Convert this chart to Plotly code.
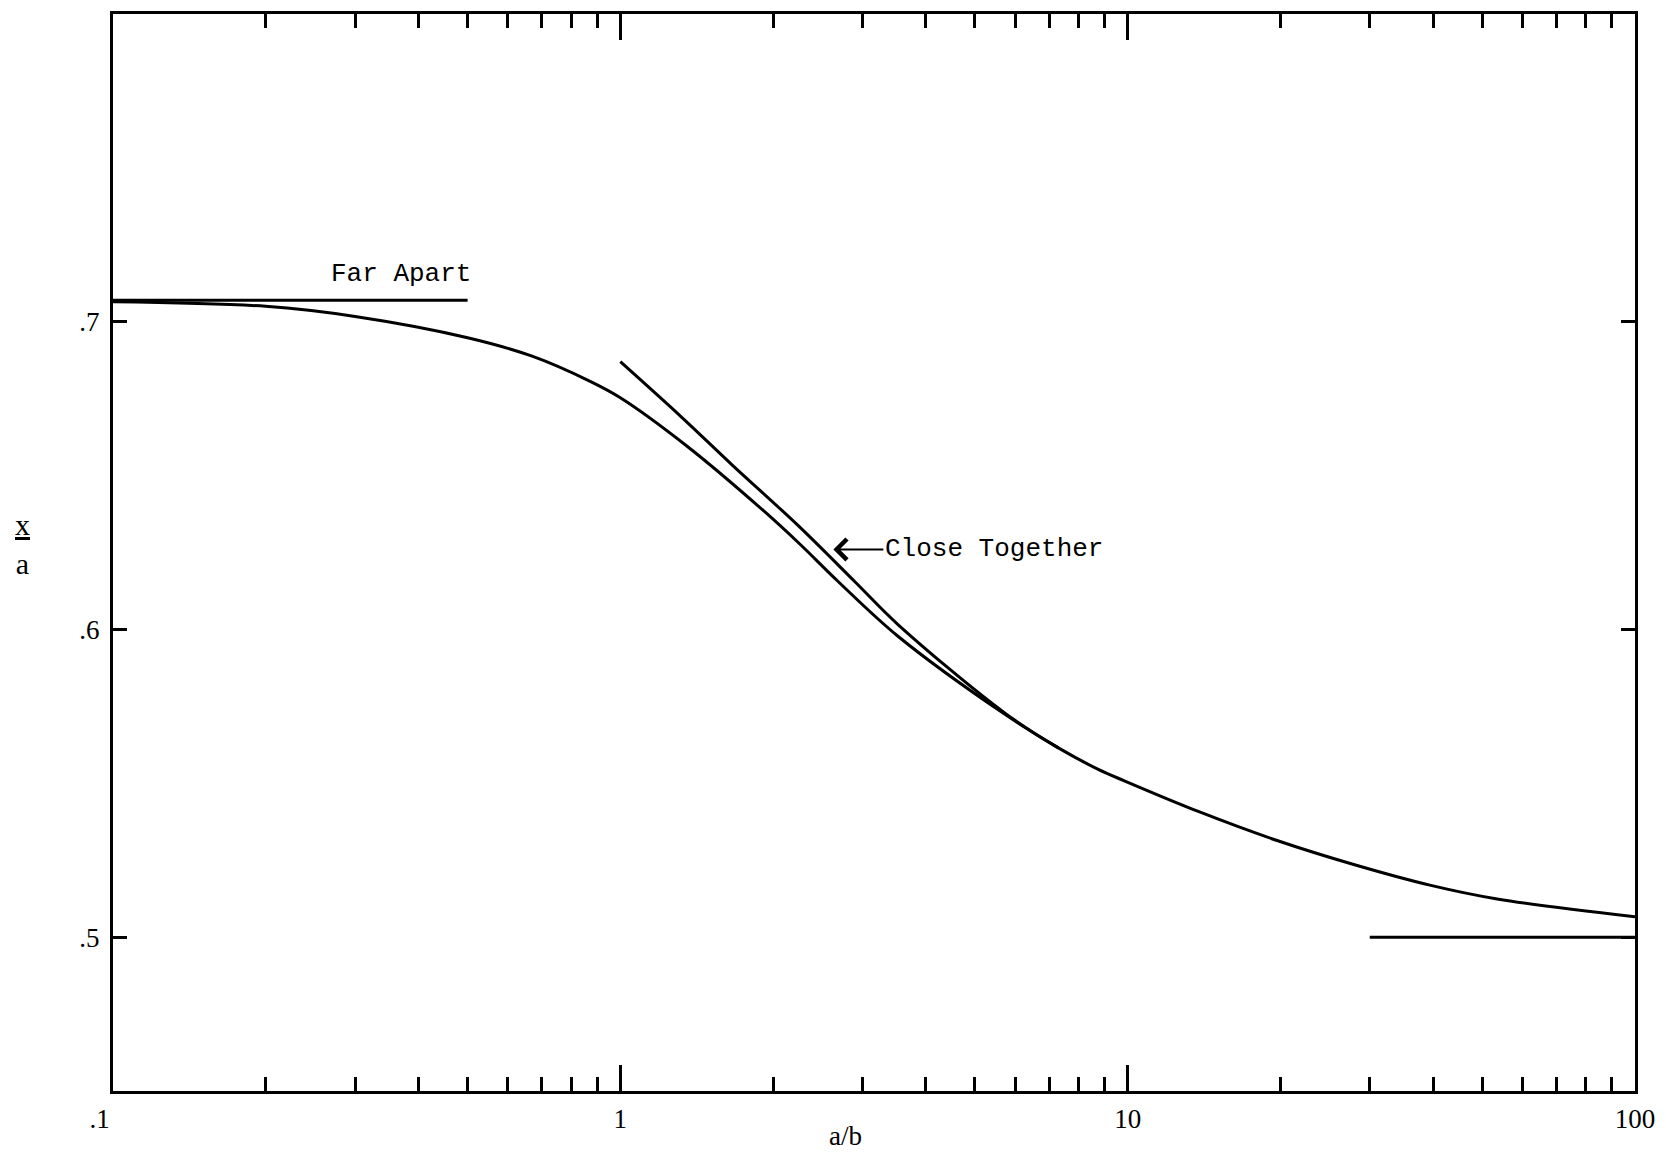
import math
import plotly.graph_objects as go

# ---- data ----
main_x = [0.1, 0.2, 0.3, 0.5, 0.67, 0.87, 1.0, 1.35, 1.93, 2.25, 2.69, 3.53, 5.73, 7.3, 8.73, 9.85, 13.9, 19.7, 27.9, 39.4, 53.5, 100]
main_y = [0.7065, 0.7050, 0.7017, 0.6948, 0.6888, 0.6807, 0.6753, 0.6597, 0.6381, 0.6280, 0.6155, 0.5977, 0.5724, 0.5615, 0.5546, 0.5508, 0.5406, 0.5314, 0.5236, 0.5169, 0.5124, 0.5066]

close_x = [1.0, 1.32, 1.66, 2.25, 2.9, 3.53, 5.73, 7.3]
close_y = [0.687, 0.6690, 0.6535, 0.6335, 0.6155, 0.6015, 0.5728, 0.5615]

far_x = [0.1, 0.5]
far_y = [0.707, 0.707]

limit_x = [30, 100]
limit_y = [0.5, 0.5]

x_tickvals = [0.1, 1, 10, 100]
x_ticktext = [".1\u00a0\u00a0\u00a0\u00a0", "1", "10", "100"]
x_minor = [m * d for d in (0.1, 1, 10) for m in range(2, 10)]
y_tickvals = [0.5, 0.6, 0.7]
y_ticktext = [".5", ".6", ".7"]

W, H = 1666, 1158
serif = "Liberation Serif"
mono = "Liberation Mono"
line = dict(color="black", width=3)

fig = go.Figure()
fig.add_trace(go.Scatter(x=main_x, y=main_y, mode="lines", line=dict(color="black", width=3, shape="spline", smoothing=1.0)))
fig.add_trace(go.Scatter(x=close_x, y=close_y, mode="lines", line=dict(color="black", width=3, shape="spline", smoothing=1.0)))
fig.add_trace(go.Scatter(x=far_x, y=far_y, mode="lines", line=line))
fig.add_trace(go.Scatter(x=limit_x, y=limit_y, mode="lines", line=line))

fig.update_layout(
    width=W, height=H,
    margin=dict(l=113, r=28, t=11, b=67, pad=0),
    paper_bgcolor="white", plot_bgcolor="white",
    showlegend=False,
    font=dict(family=serif, color="black", size=26),
)

fig.update_xaxes(
    type="log", range=[-1, 2],
    tickvals=x_tickvals, ticktext=x_ticktext,
    ticks="inside", ticklen=26, tickwidth=3, tickcolor="black",
    showline=True, linewidth=3, linecolor="black", mirror="ticks",
    showgrid=False, zeroline=False,
    ticklabelstandoff=2,
    tickfont=dict(family=serif, size=27, color="black"),
    minor=dict(tickvals=x_minor, ticks="inside", ticklen=14, tickwidth=3, tickcolor="black", showgrid=False),
)
fig.update_yaxes(
    range=[0.45, 0.8],
    tickvals=y_tickvals, ticktext=y_ticktext,
    ticks="inside", ticklen=14, tickwidth=3, tickcolor="black",
    showline=True, linewidth=3, linecolor="black", mirror="ticks",
    showgrid=False, zeroline=False,
    ticklabelstandoff=5,
    tickfont=dict(family=serif, size=27, color="black"),
)

fig.add_annotation(x=math.log10(0.37), y=0.7155, xref="x", yref="y", text="Far Apart",
                   showarrow=False, font=dict(family=mono, size=26, color="black"))
fig.add_annotation(x=math.log10(2.63), y=0.626, xref="x", yref="y", text="Close Together",
                   showarrow=True, ax=50, ay=0, xanchor="left", arrowhead=4, arrowsize=2.0,
                   arrowwidth=2, arrowcolor="black",
                   font=dict(family=mono, size=26, color="black"))
fig.add_annotation(x=-0.066, y=0.5075, xref="paper", yref="paper", text="<u>x</u><br>a",
                   showarrow=False, font=dict(family=serif, size=30, color="black"))
fig.add_annotation(x=0.4813, y=-0.042, xref="paper", yref="paper", yanchor="middle", text="a/b",
                   showarrow=False, font=dict(family=serif, size=27, color="black"))

fig.write_html("out.html")
